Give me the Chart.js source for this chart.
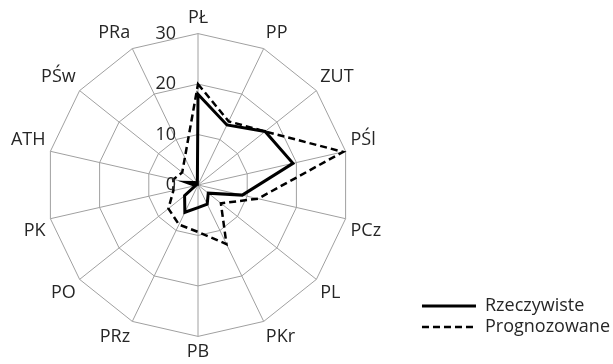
<!DOCTYPE html>
<html>
<head>
<meta charset="utf-8">
<title>Rzeczywiste i prognozowane</title>
<script src="https://cdn.jsdelivr.net/npm/chart.js@4.4.0/dist/chart.umd.min.js"></script>
<style>
  body { margin: 0; background: #fff; }
  #wrap { width: 613px; height: 364px; }
</style>
</head>
<body>
<div id="wrap"><canvas id="radar"></canvas></div>
<script>
// uczelnie, zgodnie z ruchem wskazowek zegara od gory
const uczelnie = ["PŁ", "PP", "ZUT", "PŚl", "PCz", "PL", "PKr", "PB", "PRz", "PO", "PK", "ATH", "PŚw", "PRa"];
const rzeczywiste = [18, 13.2, 17, 19.3, 9, 2.6, 4.2, 4.5, 6, 3.4, 0.5, 2.3, 0.8, 0.3];
const prognozowane = [20, 14, 17, 29.5, 12.2, 5.8, 13, 9.3, 8.7, 7.5, 5, 5, 4, 6];
const podzialka = [0, 10, 20, 30];

const FONT = "'Open Sans', sans-serif";

// opisy osi po lewej stronie pionowej osi, jak w Excelu
const opisOsi = {
  id: "opisOsi",
  afterDraw(chart) {
    const s = chart.scales.r;
    const ctx = chart.ctx;
    ctx.save();
    ctx.font = "18px " + FONT;
    ctx.fillStyle = "#262626";
    ctx.textAlign = "right";
    ctx.textBaseline = "middle";
    podzialka.forEach(v => {
      const y = s.yCenter - s.getDistanceFromCenterForValue(v);
      ctx.fillText(String(v), s.xCenter - 22, y);
    });
    ctx.restore();
  }
};

// legenda: troche wyzej i blizej prawej krawedzi
const legendaPrzesun = {
  id: "legendaPrzesun",
  afterLayout(chart) {
    const l = chart.legend;
    l.top -= 25; l.bottom -= 25;
    l.left += 27; l.right += 27;
  }
};

new Chart(document.getElementById("radar"), {
  type: "radar",
  data: {
    labels: uczelnie,
    datasets: [
      {
        label: "Rzeczywiste",
        data: rzeczywiste,
        borderColor: "#000",
        borderWidth: 3,
        fill: false,
        pointRadius: 0,
        pointStyle: "line"
      },
      {
        label: "Prognozowane",
        data: prognozowane,
        borderColor: "#000",
        borderWidth: 2.5,
        borderDash: [7, 4],
        fill: false,
        pointRadius: 0,
        pointStyle: "line"
      }
    ]
  },
  options: {
    responsive: true,
    maintainAspectRatio: false,
    animation: false,
    layout: { padding: { top: 8, right: 20 } },
    plugins: {
      tooltip: { enabled: false },
      legend: {
        position: "right",
        align: "end",
        labels: {
          usePointStyle: true,
          pointStyleWidth: 54,
          padding: 3,
          color: "#262626",
          font: { family: FONT, size: 18 },
          generateLabels(chart) {
            const items = Chart.defaults.plugins.legend.labels.generateLabels(chart);
            return items.map((it, i) => {
              const ds = chart.data.datasets[i];
              return Object.assign(it, { lineDash: ds.borderDash || [], lineWidth: ds.borderWidth });
            });
          }
        }
      }
    },
    scales: {
      r: {
        min: 0,
        max: 30,
        ticks: { stepSize: 10, display: false },
        grid: { color: "#a0a0a0", lineWidth: 1 },
        angleLines: { color: "#a0a0a0", lineWidth: 1 },
        pointLabels: {
          color: "#262626",
          padding: 5,
          font: { family: FONT, size: 18 }
        }
      }
    }
  },
  plugins: [opisOsi, legendaPrzesun]
});
</script>
</body>
</html>
